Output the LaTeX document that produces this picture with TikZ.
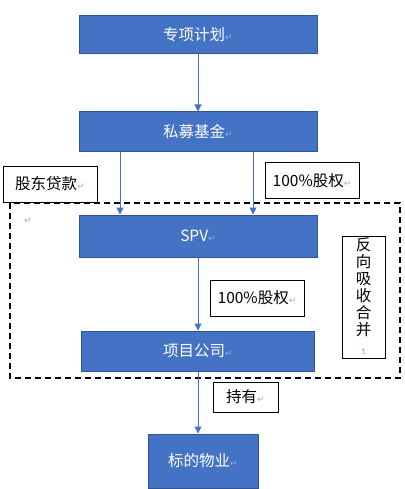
\documentclass[tikz,border=0pt]{standalone}
\usepackage{fontspec}
\setmainfont{Noto Sans CJK SC}
\newfontfamily\symfont{DejaVu Sans}
\usepackage{xcolor}
\definecolor{boxblue}{RGB}{68,114,196}
\definecolor{edgeblue}{RGB}{47,85,151}
\definecolor{markblue}{RGB}{140,180,225}
\usetikzlibrary{arrows.meta,positioning}
\newcommand{\pmark}{{\symfont\fontsize{9}{9}\selectfont\textcolor{markblue}{↵}}}

\begin{document}
\begin{tikzpicture}[x=1pt, y=1pt, >={Triangle[length=7pt,width=7pt]}, font=\fontsize{15.5}{17}\selectfont,
    blk/.style={draw=edgeblue, fill=boxblue, text=white, line width=1pt, minimum width=238pt, minimum height=40pt, inner sep=0pt},
    lbl/.style={draw, line width=0.8pt, fill=white, minimum width=94pt, minimum height=36pt, inner sep=0pt},
    arr/.style={->, draw=boxblue, line width=1pt}]
        \useasboundingbox (0,0) rectangle (404,-489);
        \draw[line width=1.6pt, dash pattern=on 6pt off 4pt] (10,-203) rectangle (400,-378);

        \node[blk, minimum height=38pt] (plan) at (198,-35) {专项计划\pmark};
        \node[blk, below=57pt of plan] (fund) {私募基金\pmark};
        \node[blk, minimum height=42pt, below=62pt of fund] (spv) {SPV\pmark};
        \node[blk, minimum width=233pt, below=73pt of spv] (proj) {项目公司\pmark};
        \node[blk, minimum width=110pt, minimum height=54pt, below=62pt of proj, xshift=5pt] (asset) {标的物业\pmark};

        \draw[arr] (plan) -- (fund);
        \draw[arr] ([xshift=-78pt]fund.south) -- ([xshift=-78pt]spv.north);
        \draw[arr] ([xshift=55pt]fund.south) -- ([xshift=55pt]spv.north);
        \draw[arr] (spv) -- (proj);
        \draw[arr] (proj.south) -- (proj.south |- asset.north);

        \node[lbl] (loan) at (50,-184) {股东贷款\pmark};
        \node[lbl] (eqa) at (312,-180.5) {100\%股权\pmark};
        \node[lbl] (eqb) at (257,-298) {100\%股权\pmark};
        \node[lbl, minimum width=65pt, minimum height=30pt] (hold) at (245.5,-397) {持有\pmark};
        \node[lbl, minimum width=43pt, minimum height=122pt, align=center] (merge) at (363.5,-297) {反\\向\\吸\\收\\合\\并\\[-4pt]\rotatebox{-90}{\pmark}};
        \node (blank) at (28,-221) {\pmark};
      \end{tikzpicture}
\end{document}
